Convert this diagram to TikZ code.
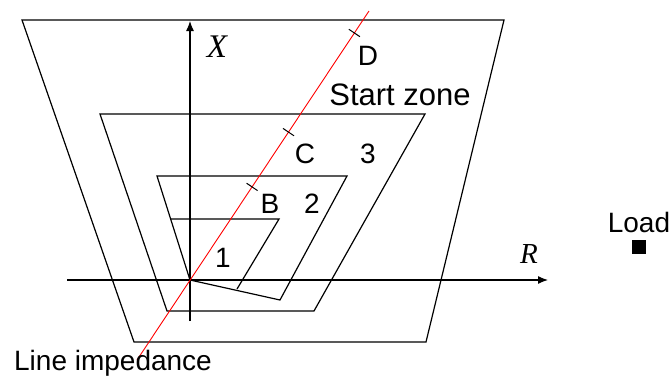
\documentclass[tikz,border=0pt]{standalone}
\usepackage{fontspec}
\setmainfont{Liberation Sans}
\newfontfamily\axisfont{Liberation Serif}
\usetikzlibrary{arrows.meta,calc}

\begin{document}
\begin{tikzpicture}[x=1pt, y=-1pt, >={Latex[length=10pt,width=8pt]},
  zone/.style={line width=1.2pt, line join=miter},
  axis/.style={->, line width=1.2pt},
  imp/.style={red, line width=0.9pt},
  tick/.style={line width=1pt},
  lbl/.style={font=\fontsize{28}{30}\selectfont, anchor=base, inner sep=0pt},
  axlbl/.style={font=\axisfont\itshape\fontsize{33}{35}\selectfont, anchor=base, inner sep=0pt}]
\useasboundingbox (0,0) rectangle (670,378);
\coordinate (O) at (190,280);
% zones
\draw[zone] (22,20) -- (504,20) -- (426,342) -- (134,342) -- cycle;
\draw[zone] (100,114) -- (425,114) -- (314,311) -- (167,311) -- cycle;
\draw[zone] (157,176) -- (347,176) -- (280,300) -- (O) -- cycle;
\draw[zone] (170,219) -- (279,219) -- (237,289);
% axes
\coordinate (xlo) at (190,321);
\coordinate (xhi) at (190,21);
\coordinate (rlo) at (67,280);
\coordinate (rhi) at (548,280);
\draw[axis] (xlo) -- (xhi);
\draw[axis] (rlo) -- (rhi);
% line impedance
\coordinate (lo) at (137,360);
\coordinate (hi) at (369,11);
\draw[imp] (lo) -- (hi);
\foreach \t/\n in {0.496/b, 0.653/c, 0.937/d}{
  \coordinate (t\n) at ($(lo)!\t!(hi)$);
  \draw[tick] (t\n) ++(-5.5,-3.7) -- ++(11,7.4);
}
% labels
\node[axlbl] (xlab) at (217,57) {X};
\node[axlbl, font=\axisfont\itshape\fontsize{29}{31}\selectfont] (rlab) at (529,263) {R};
\node[lbl] (dlab) at (368,65) {D};
\node[lbl, font=\fontsize{31}{33}\selectfont] (start) at (400,105) {Start zone};
\node[lbl] (clab) at (305,163) {C};
\node[lbl] (z3) at (368,163) {3};
\node[lbl] (blab) at (270,213) {B};
\node[lbl] (z2) at (312,213) {2};
\node[lbl] (z1) at (223,267) {1};
\node[lbl] (imptxt) at (113,370) {Line impedance};
\node[lbl] (loadtxt) at (639,232) {Load};
\node[fill, minimum size=14pt, inner sep=0pt] (load) at (639,247) {};
\end{tikzpicture}
\end{document}
